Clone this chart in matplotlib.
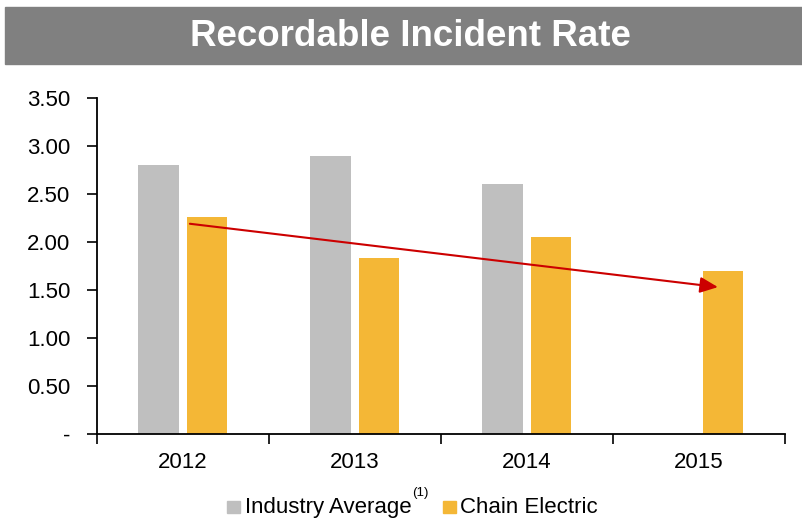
import matplotlib
matplotlib.use("Agg")
import matplotlib.pyplot as plt
from matplotlib.patches import Rectangle
from matplotlib.ticker import FuncFormatter
import numpy as np

plt.rcParams['font.family'] = ['Liberation Sans', 'DejaVu Sans']

years = ["2012", "2013", "2014", "2015"]
industry_avg = [2.80, 2.90, 2.60, None]
chain_electric = [2.26, 1.83, 2.05, 1.70]

GRAY = '#BFBFBF'
ORANGE = '#F4B736'

fig = plt.figure(figsize=(8.03, 5.18), dpi=100)
ax = fig.add_axes([0.1208, 0.1622, 0.8568, 0.6486])

x = np.arange(len(years))
w = 0.235
for i, v in enumerate(industry_avg):
    if v is not None:
        ax.bar(x[i] - 0.143, v, width=w, color=GRAY)
ax.bar(x + 0.138, chain_electric, width=w, color=ORANGE)

# trend arrow
ax.annotate("", xy=(3.11, 1.53), xytext=(0.04, 2.19),
            arrowprops=dict(arrowstyle='-|>,head_length=0.9,head_width=0.4',
                            mutation_scale=12,
                            color='#CC0000', lw=1.5, shrinkA=0, shrinkB=0))

ax.set_xlim(-0.5, 3.5)
ax.set_ylim(0, 3.5)
ax.set_yticks(np.arange(0, 3.51, 0.5))
ax.yaxis.set_major_formatter(FuncFormatter(lambda v, p: "-" if v == 0 else f"{v:.2f}"))
ax.set_xticks(x)
ax.set_xticklabels(years)
ax.set_xticks(np.arange(-0.5, 3.6, 1), minor=True)
ax.tick_params(axis='x', which='major', length=0, labelsize=16, pad=13)
ax.tick_params(axis='x', which='minor', length=7, width=1.2, direction='out')
ax.tick_params(axis='y', length=7, width=1.2, labelsize=16, pad=12)
for s in ['top', 'right']:
    ax.spines[s].set_visible(False)
for s in ['left', 'bottom']:
    ax.spines[s].set_linewidth(1.3)

# title banner
fig.patches.append(Rectangle((5 / 803, 1 - 64 / 518), 798 / 803, 57 / 518,
                             transform=fig.transFigure, color='#808080', zorder=0))
fig.text(0.511, 1 - 37 / 518, "Recordable Incident Rate", color='white',
         fontsize=26.5, fontweight='bold', ha='center', va='center')

# legend (kept just inside the bottom edge)
fig.patches.append(Rectangle((227 / 803, 1 - 513 / 518), 13 / 803, 12 / 518,
                             transform=fig.transFigure, color=GRAY))
fig.text(245 / 803, 1 - 513 / 518, "Industry Average", fontsize=16, va='baseline')
fig.text(412 / 803, 1 - 496 / 518, "(1)", fontsize=9.5, va='baseline')
fig.patches.append(Rectangle((443 / 803, 1 - 513 / 518), 13 / 803, 12 / 518,
                             transform=fig.transFigure, color=ORANGE))
fig.text(460 / 803, 1 - 513 / 518, "Chain Electric", fontsize=16, va='baseline')

fig.savefig("out.png", dpi=100)
